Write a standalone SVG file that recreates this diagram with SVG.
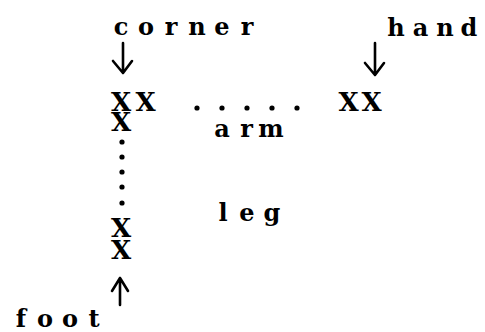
<svg xmlns="http://www.w3.org/2000/svg" width="485" height="332" viewBox="0 0 485 332">
<style>
.t{font-family:"DejaVu Serif","Liberation Serif",serif;font-weight:bold;font-size:24px;text-anchor:middle;fill:#000}
.x{font-family:"DejaVu Serif","Liberation Serif",serif;font-weight:bold;font-size:26px;text-anchor:middle;fill:#000}
.a{fill:none;stroke:#000;stroke-width:2.6;stroke-linecap:round;stroke-linejoin:round}
.d{fill:#000}
</style>
<rect width="485" height="332" fill="#fff"/>
<g id="corner"><text class="t" x="121 146 171 197 222 247" y="35">corner</text></g>
<g id="hand"><text class="t" x="396 420.5 445 469" y="36">hand</text></g>
<g id="foot"><text class="t" x="21 45 70 94" y="327">foot</text></g>
<g id="arm-label"><text class="t" x="222 246.5 271" y="137">arm</text></g>
<g id="leg-label"><text class="t" x="223 247 272" y="221">leg</text></g>
<g id="corner-x">
<text class="x"><tspan x="121 145.5" y="111">XX</tspan><tspan x="121" y="131">X</tspan></text>
</g>
<g id="hand-x"><text class="x" x="348.5 371.5" y="111">XX</text></g>
<g id="foot-x">
<text class="x"><tspan x="121" y="237">X</tspan><tspan x="121" y="259">X</tspan></text>
</g>
<g id="arm-dots" class="d">
<circle cx="197" cy="108" r="2.6"/><circle cx="222" cy="108" r="2.6"/><circle cx="247" cy="108" r="2.6"/><circle cx="272" cy="108" r="2.6"/><circle cx="297" cy="108" r="2.6"/>
</g>
<g id="leg-dots" class="d">
<circle cx="122" cy="142" r="2.6"/><circle cx="122" cy="157" r="2.6"/><circle cx="122" cy="172" r="2.6"/><circle cx="122" cy="187" r="2.6"/><circle cx="122" cy="203" r="2.6"/>
</g>
<g id="connectors" class="a">
<path d="M123 43V73M113 61L123 73L132 61"/>
<path d="M375 43V75M365 63L375 75L384 63"/>
<path d="M120 305V278M112 291L120 278L128 291"/>
</g>
</svg>
